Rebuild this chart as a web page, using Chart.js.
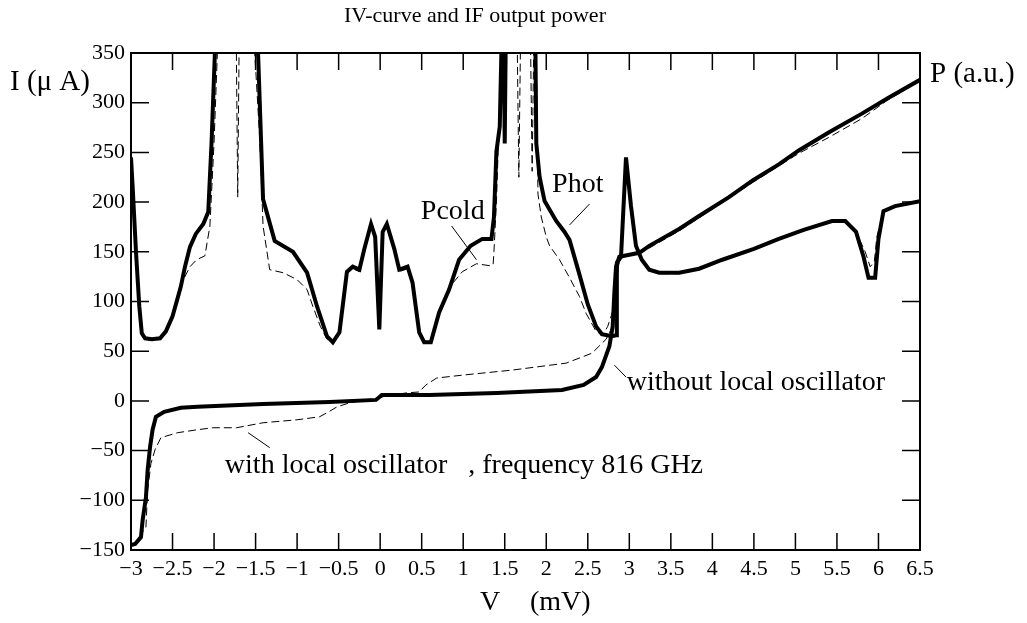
<!DOCTYPE html>
<html>
<head>
<meta charset="utf-8">
<title>IV-curve and IF output power</title>
<script src="https://cdn.jsdelivr.net/npm/chart.js@4.4.1/dist/chart.umd.min.js"></script>
<style>
  html, body { margin: 0; padding: 0; background: #fff; }
  canvas { display: block; }
</style>
</head>
<body>
<canvas id="grafico" width="1027" height="623"></canvas>
<script>
// ejes
const vMin = -3, vMax = 6.5, vStep = 0.5;
const iMin = -150, iMax = 350, iStep = 50;

// Phot (IF power, hot load) - valores fuera de escala (430) se recortan
const photV = [-3.00, -2.98, -2.94, -2.90, -2.87, -2.83, -2.75, -2.65, -2.58, -2.50, -2.45, -2.40, -2.35, -2.29, -2.22, -2.13, -2.07, -2.03, -1.99, -1.95,
  -1.52, -1.47, -1.41, -1.27, -1.05, -0.88, -0.76, -0.64, -0.57, -0.49, -0.40, -0.33, -0.25, -0.19, -0.11, -0.06, -0.01, 0.03, 0.08, 0.17,
  0.23, 0.33, 0.39, 0.47, 0.53, 0.61, 0.71, 0.83, 0.95, 1.09, 1.23, 1.34, 1.37, 1.40, 1.44, 1.46, 1.48, 1.50, 1.52, 1.85,
  1.87, 1.88, 1.92, 1.98, 2.12, 2.22, 2.28, 2.40, 2.50, 2.60, 2.67, 2.79, 2.84, 2.85, 2.90, 2.96, 3.02, 3.08, 3.15, 3.24,
  3.36, 3.60, 3.84, 4.12, 4.50, 4.80, 5.10, 5.44, 5.60, 5.73, 5.82, 5.88, 5.96, 6.00, 6.06, 6.20, 6.50];
const photP = [245, 215, 150, 95, 68, 63, 62, 63, 70, 85, 100, 115, 135, 155, 168, 178, 190, 260, 350, 430,
  430, 350, 203, 161, 150, 129, 95, 65, 59, 69, 130, 135, 132, 153, 178, 165, 72, 170, 178, 153,
  132, 135, 119, 69, 59, 59, 89, 112, 142, 156, 163, 163, 185, 251, 276, 352, 430, 259, 430, 430,
  350, 259, 225, 201, 181, 170, 162, 127, 97, 75, 67, 65, 66, 139, 145, 245, 196, 156, 142, 132,
  129, 129, 133, 142, 153, 163, 172, 181, 181, 170, 145, 124, 124, 163, 191, 196, 201];

// Pcold (IF power, cold load)
const coldV = [-3.00, -2.98, -2.94, -2.90, -2.87, -2.83, -2.75, -2.65, -2.60, -2.53, -2.45, -2.37, -2.29, -2.21, -2.11, -2.05, -2.00, -1.96, -1.92, -1.74,
  -1.715, -1.69, -1.53, -1.51, -1.45, -1.41, -1.33, -1.17, -1.00, -0.88, -0.81, -0.72, -0.64, -0.57, -0.49, -0.40, -0.33, -0.25, -0.19, -0.11,
  -0.06, -0.01, 0.03, 0.08, 0.17, 0.23, 0.33, 0.39, 0.47, 0.53, 0.61, 0.71, 0.87, 0.99, 1.16, 1.32, 1.36, 1.37, 1.40, 1.44,
  1.46, 1.50, 1.64, 1.67, 1.70, 1.80, 1.83, 1.86, 1.88, 1.90, 1.94, 2.00, 2.04, 2.16, 2.28, 2.40, 2.48, 2.60, 2.68, 2.74,
  2.80, 2.85, 2.90, 2.96, 3.02, 3.08, 3.15, 3.24, 3.36, 3.60, 3.84, 4.12, 4.50, 4.80, 5.10, 5.44, 5.60, 5.73, 5.84, 5.90,
  5.95, 5.98, 6.06, 6.20, 6.50];
const coldP = [245, 215, 150, 95, 68, 63, 62, 63, 66, 79, 100, 122, 135, 142, 146, 176, 260, 350, 430, 430,
  205, 430, 430, 350, 264, 176, 132, 129, 122, 112, 95, 75, 62, 58, 68, 128, 133, 130, 150, 175,
  163, 75, 168, 175, 150, 130, 133, 117, 68, 58, 58, 88, 118, 130, 138, 136, 137, 150, 200, 300,
  350, 430, 430, 225, 430, 430, 231, 430, 350, 208, 185, 165, 156, 142, 124, 105, 88, 70, 66, 75,
  90, 130, 145, 243, 194, 155, 141, 131, 128, 128, 132, 141, 152, 162, 171, 180, 180, 170, 150, 135,
  140, 165, 190, 195, 200];

// curva IV sin oscilador local
const ivV = [-3.00, -2.95, -2.88, -2.86, -2.82, -2.80, -2.77, -2.74, -2.70, -2.60, -2.40, -2.20, -1.41, -0.61, -0.05, 0.02, 0.59, 1.40, 2.19, 2.45,
  2.60, 2.67, 2.76, 2.80, 2.82, 2.84, 2.88, 3.12, 3.24, 3.60, 3.84, 4.20, 4.49, 4.80, 5.04, 5.40, 5.80, 6.10, 6.50];
const ivI = [-145, -144, -137, -120, -97, -70, -46, -29, -16, -11, -7, -6, -3, -1, 1, 6, 6, 8, 11, 16,
  24, 34, 55, 75, 109, 135, 145, 149, 156, 173, 186, 205, 222, 238, 252, 270, 289, 304, 323];

// curva IV con oscilador local, 816 GHz
const ivLoV = [-3.00, -2.90, -2.85, -2.82, -2.80, -2.76, -2.71, -2.64, -2.44, -2.20, -2.01, -1.73, -1.41, -1.00, -0.73, -0.62, -0.52, -0.37, 0.03, 0.31,
  0.47, 0.55, 0.68, 1.00, 1.59, 2.24, 2.55, 2.72, 2.80, 2.84, 2.88, 3.12, 3.60, 4.49, 5.04, 5.40, 5.80, 6.10, 6.50];
const ivLoI = [-145, -140, -130, -127, -90, -63, -49, -37, -32, -29, -27, -27, -22, -19, -16, -11, -6, -2, 4, 8,
  9, 16, 23, 26, 31, 38, 48, 62, 75, 110, 145, 148, 171, 220, 249, 265, 284, 302, 322];

const puntos = (xs, ys) => xs.map((x, i) => ({ x: x, y: ys[i] }));

const serif = 'Liberation Serif, Times New Roman, serif';

const dataSet = (label, data, width, dash) => {
  return {
    label: label,
    data: data,
    showLine: true,
    borderColor: '#000',
    borderWidth: width,
    borderDash: dash,
    pointRadius: 0,
    tension: 0,
    fill: false
  }
}

// marco, ticks hacia adentro y textos
const marco = {
  id: 'marco',
  afterDatasetsDraw(chart) {
    const { ctx, chartArea: a, scales: { x, y } } = chart;
    const px = (v) => x.getPixelForValue(v);
    const py = (v) => y.getPixelForValue(v);
    ctx.save();
    ctx.strokeStyle = '#000';
    ctx.lineWidth = 2;
    ctx.strokeRect(a.left, a.top, a.right - a.left, a.bottom - a.top);

    ctx.lineWidth = 1.5;
    ctx.beginPath();
    x.ticks.forEach(t => {
      const p = px(t.value);
      ctx.moveTo(p, a.bottom); ctx.lineTo(p, a.bottom - 17);
      ctx.moveTo(p, a.top); ctx.lineTo(p, a.top + 17);
    });
    y.ticks.forEach(t => {
      const p = py(t.value);
      ctx.moveTo(a.left, p); ctx.lineTo(a.left + 18, p);
      ctx.moveTo(a.right, p); ctx.lineTo(a.right - 18, p);
    });
    ctx.stroke();

    // lineas indicadoras
    ctx.lineWidth = 1;
    const linea = (x1, y1, x2, y2) => {
      ctx.beginPath();
      ctx.moveTo(px(x1), py(y1));
      ctx.lineTo(px(x2), py(y2));
      ctx.stroke();
    };
    linea(0.86, 176, 1.16, 142);
    linea(2.52, 198, 2.28, 177);
    linea(2.96, 24, 2.82, 36);
    linea(-1.59, -32, -1.33, -47);

    ctx.fillStyle = '#000';
    ctx.textBaseline = 'middle';
    ctx.textAlign = 'left';
    ctx.font = '28px ' + serif;
    ctx.fillText('Pcold', px(0.49), py(190));
    ctx.fillText('Phot', px(2.07), py(218));
    ctx.fillText('without local oscillator', px(2.97), py(18));
    ctx.fillText('with local oscillator   , frequency 816 GHz', px(-1.87), py(-65));

    ctx.textAlign = 'center';
    ctx.font = '22px ' + serif;
    ctx.fillText('IV-curve and IF output power', 475, 16);
    ctx.font = '28px ' + serif;
    ctx.fillText('V', 490, 603);
    ctx.textAlign = 'left';
    ctx.fillText('(mV)', 530, 603);
    ctx.font = '29px ' + serif;
    ctx.fillText('I (\u03bc A)', 10, 82);
    ctx.fillText('P (a.u.)', 930, 74);
    ctx.restore();
  }
};

const etiqueta = (v) => String(v).replace('-', '\u2212');

new Chart(document.getElementById('grafico'), {
  type: 'scatter',
  data: {
    datasets: [
      dataSet('Pcold', puntos(coldV, coldP), 1, [8, 4]),
      dataSet('IV with local oscillator', puntos(ivLoV, ivLoI), 1, [8, 4]),
      dataSet('Phot', puntos(photV, photP), 4, []),
      dataSet('IV without local oscillator', puntos(ivV, ivI), 4, [])
    ]
  },
  options: {
    responsive: false,
    animation: false,
    devicePixelRatio: 1,
    layout: { padding: { top: 53, right: 107, bottom: 0, left: 0 } },
    plugins: {
      legend: { display: false },
      title: { display: false },
      tooltip: { enabled: false }
    },
    scales: {
      x: {
        type: 'linear',
        min: vMin,
        max: vMax,
        afterFit: (s) => { s.height = 73; },
        grid: { display: false, drawTicks: false },
        border: { display: false },
        ticks: {
          stepSize: vStep,
          autoSkip: false,
          maxRotation: 0,
          padding: 6,
          color: '#000',
          font: { family: serif, size: 22 },
          callback: etiqueta
        }
      },
      y: {
        type: 'linear',
        min: iMin,
        max: iMax,
        afterFit: (s) => { s.width = 131; },
        grid: { display: false, drawTicks: false },
        border: { display: false },
        ticks: {
          stepSize: iStep,
          autoSkip: false,
          padding: 6,
          color: '#000',
          font: { family: serif, size: 22 },
          callback: etiqueta
        }
      }
    }
  },
  plugins: [marco]
});
</script>
</body>
</html>
